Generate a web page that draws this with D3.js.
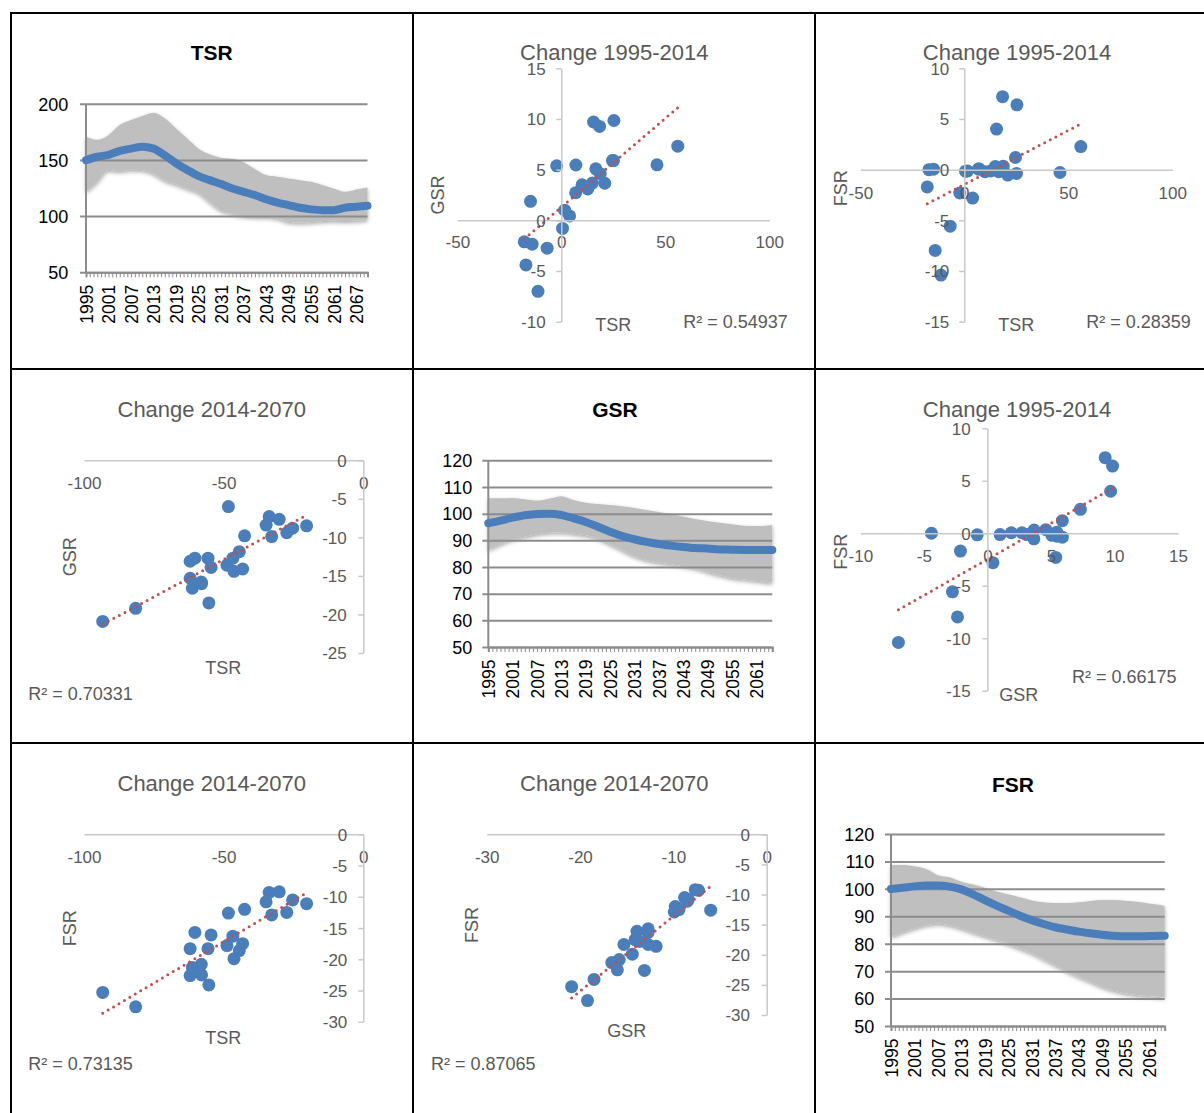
<!DOCTYPE html>
<html>
<head>
<meta charset="utf-8">
<script src="https://cdn.jsdelivr.net/npm/d3@7"></script>
<style>
  html, body { margin: 0; padding: 0; background: #fff; }
  svg { display: block; font-family: "Liberation Sans", Arial, Helvetica, sans-serif; }
</style>
</head>
<body>
<svg id="chart" width="1204" height="1113"></svg>
<script>
// ---------------- Index series (sampled years) ----------------
const tsrYears = [1995, 1998, 2001, 2004, 2007, 2010, 2013, 2016, 2019, 2022, 2025, 2028, 2031,
                  2034, 2037, 2040, 2043, 2046, 2049, 2052, 2055, 2058, 2061, 2064, 2067, 2070];
const tsrMean  = [149.8, 152.8, 154.5, 158, 160, 161.7, 160, 154, 147, 141, 135.6, 132, 128.5,
                  124.6, 121.6, 118.7, 115, 112, 109.8, 107.4, 106, 105.3, 105.3, 107.4, 108.3, 109.2];
const tsrUpper = [170.6, 168, 172, 181, 185.4, 189, 192, 187, 178, 169, 160, 155, 152,
                  151, 148, 142, 136.5, 135, 133.5, 132, 130.5, 127.6, 124.6, 121.6, 123.7, 125.5];
const tsrLower = [121.6, 130.5, 141, 140.3, 141.5, 141, 138, 132, 128.5, 124.6, 120.8, 112.8, 105.3,
                  102.4, 100, 99.4, 99.4, 98, 95, 94.4, 94.7, 95.6, 96, 95.6, 96, 97];

const gfYears  = [1995, 1998, 2001, 2004, 2007, 2010, 2013, 2016, 2019, 2022, 2025, 2028, 2031,
                  2034, 2037, 2040, 2043, 2046, 2049, 2052, 2055, 2058, 2061, 2064, 2065];
const gsrMean  = [96.4, 97.4, 98.5, 99.4, 99.9, 100, 99.5, 98.25, 96.9, 95.1, 93.25, 91.6, 90.4,
                  89.4, 88.6, 88, 87.5, 87.1, 86.9, 86.6, 86.5, 86.4, 86.4, 86.4, 86.4];
const gsrUpper = [105.75, 105.75, 105.9, 105.4, 104.9, 105.6, 106.5, 105.1, 104.1, 103.6, 103.25, 102.75, 102.1,
                  101.4, 100.6, 99.9, 98.9, 98, 97.25, 96.6, 96, 95.5, 95.4, 95.6, 95.75];
const gsrLower = [86.4, 88.6, 90.4, 91.4, 92.4, 92.9, 93, 92.6, 92, 90.75, 88.6, 86.4, 84.1,
                  82.6, 81.75, 81.1, 80.4, 79.5, 78.25, 77, 76, 75.4, 74.9, 74.3, 74.1];
const fsrMean  = [99.95, 100.4, 100.9, 101.2, 101.2, 100.8, 99.8, 98, 95.9, 93.9, 92.05, 90.2, 88.6,
                  87.2, 86, 85.2, 84.4, 83.8, 83.3, 82.9, 82.7, 82.7, 82.8, 82.9, 82.9];
const fsrUpper = [108.7, 108.7, 108.2, 107.2, 105, 104.2, 102.6, 101.6, 100.4, 99, 98, 96.9, 95.8,
                  95.1, 94.8, 94.8, 95.1, 95.6, 95.9, 95.9, 95.7, 95.3, 94.7, 94.1, 93.75];
const fsrLower = [82.6, 84.2, 85.6, 86.8, 87.4, 86.8, 85.6, 84.2, 82.8, 81.4, 79.9, 78.3, 76.6,
                  74.4, 72.2, 70, 68, 66.2, 64.3, 62.9, 61.9, 61.3, 60.9, 60.6, 60.4];

// Category axes (one tick per year) and labelled years
const tsrCategories = d3.range(1995, 2071);
const gfCategories  = d3.range(1995, 2066);
const tsrLabelYears = [1995, 2001, 2007, 2013, 2019, 2025, 2031, 2037, 2043, 2049, 2055, 2061, 2067];
const gfLabelYears  = [1995, 2001, 2007, 2013, 2019, 2025, 2031, 2037, 2043, 2049, 2055, 2061];
const tsrTicks = [50, 100, 150, 200];
const gfTicks  = [50, 60, 70, 80, 90, 100, 110, 120];

// ---------------- Per-country changes (%) ----------------
const chg9514TSR = [18.4, 25.3, 15.5, 56.0, 24.6, -11.2, -14.0, -6.8, 4.0, -2.2, -17.8, 46.0, -17.0,
                    -14.8, 0.6, 1.6, 6.9, 7.0, 10.0, 12.7, 14.9, 16.6, 18.7, 20.9, 25.1];
const chg9514GSR = [9.27, 9.85, 9.7, 7.32, 5.9, -7.0, -2.35, -2.75, 0.44, 5.38, -2.12, 5.48, -4.4,
                    1.88, -0.8, 1.0, 2.72, 5.46, 3.5, 3.1, 3.68, 5.08, 4.6, 3.66, 5.9];
const chg9514FSR = [7.2, 6.4, 4.0, 2.28, 1.2, -10.4, -7.97, -5.58, -2.8, -2.3, -1.7, -0.28, 0.0,
                    0.05, -0.15, -0.13, 0.05, 0.1, -0.2, -0.13, 0.3, -0.2, 0.34, -0.53, -0.37];

const chg1470TSR = [-93.3, -81.5, -48.3, -33.7, -30.1, -34.8, -32.8, -27.4, -25.3, -20.3, -42.5, -44.4, -46.7,
                    -48.8, -46.3, -43.2, -54.5, -55.6, -62.0, -62.0, -60.3, -61.2, -58.0, -57.9, -55.3];
const chg1470GSR = [-20.9, -19.2, -6.0, -7.3, -7.66, -8.4, -9.9, -9.4, -8.8, -8.5, -9.8, -11.85, -12.7,
                    -13.6, -14.4, -14.1, -13.9, -12.7, -13.1, -15.3, -12.7, -16.6, -15.8, -16.0, -18.5];
const chg1470FSR = [-25.3, -27.6, -12.6, -9.3, -9.2, -10.8, -12.9, -12.5, -10.5, -11.1, -12.0, -18.6, -16.3,
                    -17.8, -19.9, -17.5, -16.1, -18.3, -22.6, -18.3, -15.7, -21.3, -20.8, -22.5, -24.1];

const r2Labels = {
  tsrGsr9514: "R² = 0.54937", tsrFsr9514: "R² = 0.28359", gsrFsr9514: "R² = 0.66175",
  tsrGsr1470: "R² = 0.70331", tsrFsr1470: "R² = 0.73135", gsrFsr1470: "R² = 0.87065"
};

// ---------------- Drawing ----------------
const svg = d3.select("#chart");
const BLUE = "#4a7ebb", RED = "#c0504d", GREY_TXT = "#595959";
const FONT = '"Liberation Sans", Arial, Helvetica, sans-serif';
const plain = d => String(d);   // keep the ASCII hyphen for negatives

const defs = svg.append("defs");
const shadow = defs.append("filter").attr("id", "bandShadow")
  .attr("x", "-5%").attr("y", "-5%").attr("width", "110%").attr("height", "120%");
shadow.append("feDropShadow").attr("dx", 0).attr("dy", 2).attr("stdDeviation", 2)
  .attr("flood-color", "#000").attr("flood-opacity", 0.35);

function linePanel(cfg, years, mean, upper, lower, categories, labelYears, yTicks) {
  const g = svg.append("g");
  const x = d3.scalePoint().domain(categories).range([cfg.x0, cfg.x1]);
  const y = d3.scaleLinear().domain(cfg.yDomain).range([cfg.y0, cfg.y1]);
  const rows = years.map((yr, i) => ({ yr, m: mean[i], u: upper[i], l: lower[i] }));

  // uncertainty band
  g.append("path").datum(rows)
    .attr("d", d3.area().curve(d3.curveMonotoneX)
      .x(d => x(d.yr)).y0(d => y(d.l)).y1(d => y(d.u)))
    .attr("fill", "#bfbfbf").attr("filter", "url(#bandShadow)");

  // gridlines + value labels
  const ya = g.append("g").attr("transform", `translate(${cfg.x0 - 6},0)`)
    .call(d3.axisLeft(y).tickValues(yTicks).tickFormat(plain).tickSizeOuter(0)
      .tickSizeInner(-(cfg.x1 - cfg.x0 + 6)).tickPadding(cfg.x0 - 6 - cfg.labelRight));
  ya.select(".domain").remove();
  ya.selectAll("line").attr("stroke", "#8c8c8c").attr("stroke-width", 2);
  ya.selectAll("text").attr("font-size", 18).attr("font-family", FONT).attr("fill", "#000")
    .attr("dy", "0.35em");

  // vertical value axis line
  g.append("line").attr("x1", cfg.x0).attr("x2", cfg.x0)
    .attr("y1", cfg.y1).attr("y2", cfg.y0).attr("stroke", "#8c8c8c").attr("stroke-width", 2);

  // category axis: yearly ticks, rotated labels
  const labelSet = new Set(labelYears);
  const xa = g.append("g").attr("transform", `translate(0,${cfg.y0})`)
    .call(d3.axisBottom(x).tickSizeOuter(0).tickSize(5)
      .tickFormat(d => labelSet.has(d) ? String(d) : ""));
  xa.select(".domain").attr("stroke", "#8c8c8c").attr("stroke-width", 2);
  xa.selectAll("line").attr("stroke", "#8c8c8c").attr("stroke-width", 1);
  xa.selectAll("text").attr("font-size", 17.5).attr("font-family", FONT).attr("fill", "#000")
    .attr("transform", "rotate(-90)").attr("text-anchor", "end")
    .attr("x", -12.5).attr("y", 0).attr("dy", "0.36em");

  // mean line
  g.append("path").datum(rows)
    .attr("d", d3.line().curve(d3.curveMonotoneX).x(d => x(d.yr)).y(d => y(d.m)))
    .attr("fill", "none").attr("stroke", BLUE).attr("stroke-width", 8)
    .attr("stroke-linecap", "round").attr("stroke-linejoin", "round");

  g.append("text").attr("x", cfg.titleX).attr("y", cfg.titleY).attr("dy", "0.35em")
    .attr("text-anchor", "middle").attr("font-size", 21).attr("font-weight", "bold")
    .attr("font-family", FONT).attr("fill", "#000").text(cfg.title);
}

function scatterPanel(cfg, xs, ys) {
  const g = svg.append("g");
  const x = d3.scaleLinear().domain(cfg.xDomain).range([cfg.x0, cfg.x1]);
  const y = d3.scaleLinear().domain(cfg.yDomain).range([cfg.y0, cfg.y1]);

  // points
  g.append("g").selectAll("circle").data(xs).join("circle")
    .attr("cx", d => x(d)).attr("cy", (d, i) => y(ys[i])).attr("r", 6.5).attr("fill", BLUE);

  // least-squares trendline across the data range
  const mx = d3.mean(xs), my = d3.mean(ys);
  const sxy = d3.sum(xs, (v, i) => (v - mx) * (ys[i] - my));
  const sxx = d3.sum(xs, v => (v - mx) * (v - mx));
  const slope = sxy / sxx, icpt = my - slope * mx;
  const [lo, hi] = d3.extent(xs);
  g.append("line")
    .attr("x1", x(lo)).attr("y1", y(icpt + slope * lo))
    .attr("x2", x(hi)).attr("y2", y(icpt + slope * hi))
    .attr("stroke", RED).attr("stroke-width", 3).attr("stroke-linecap", "round")
    .attr("stroke-dasharray", "0 6.3");

  // axes crossing at zero
  const xa = g.append("g").attr("transform", `translate(0,${y(0)})`)
    .call(d3.axisBottom(x).tickValues(cfg.xTicks).tickFormat(plain).tickSize(0).tickSizeOuter(0));
  xa.select(".domain").attr("stroke", "#c8c8c8").attr("stroke-width", 1.5);
  xa.selectAll("text").attr("font-size", 17).attr("font-family", FONT).attr("fill", GREY_TXT)
    .attr("y", cfg.xLabelOffset).attr("dy", "0.35em");

  const ya = g.append("g").attr("transform", `translate(${x(0)},0)`)
    .call(d3.axisLeft(y).tickValues(cfg.yTicks).tickFormat(plain).tickSizeInner(5).tickSizeOuter(0));
  ya.select(".domain").attr("stroke", "#c8c8c8").attr("stroke-width", 1.5);
  ya.selectAll("line").attr("stroke", "#c8c8c8").attr("stroke-width", 1.5);
  ya.selectAll("text").attr("font-size", 17).attr("font-family", FONT).attr("fill", GREY_TXT)
    .attr("x", -cfg.yLabelOffset).attr("dy", "0.35em");

  // titles
  g.append("text").attr("x", cfg.titleX).attr("y", cfg.titleY).attr("dy", "0.35em")
    .attr("text-anchor", "middle").attr("font-size", 22).attr("font-family", FONT)
    .attr("fill", GREY_TXT).text(cfg.title);
  g.append("text").attr("transform", `translate(${cfg.yTitle[0]},${cfg.yTitle[1]}) rotate(-90)`)
    .attr("dy", "0.35em").attr("text-anchor", "middle").attr("font-size", 18)
    .attr("font-family", FONT).attr("fill", GREY_TXT).text(cfg.yName);
  g.append("text").attr("x", cfg.xTitle[0]).attr("y", cfg.xTitle[1]).attr("dy", "0.35em")
    .attr("text-anchor", "middle").attr("font-size", 18).attr("font-family", FONT)
    .attr("fill", GREY_TXT).text(cfg.xName);
  g.append("text").attr("x", cfg.r2Pos[0]).attr("y", cfg.r2Pos[1]).attr("dy", "0.35em")
    .attr("font-size", 18).attr("font-family", FONT).attr("fill", GREY_TXT).text(cfg.r2);
}

// table rules
[[11, 13, 1204, 13], [11, 12, 11, 1113], [413, 12, 413, 1113], [815, 12, 815, 1113],
 [11, 369, 1204, 369], [11, 743, 1204, 743]].forEach(([x1, y1, x2, y2]) =>
  svg.append("line").attr("x1", x1).attr("y1", y1).attr("x2", x2).attr("y2", y2)
    .attr("stroke", "#000").attr("stroke-width", 2));

// index panels
linePanel({ x0: 86, x1: 367.5, y0: 272.3, y1: 103.7, yDomain: [50, 200], labelRight: 68.3,
            title: "TSR", titleX: 211.7, titleY: 52.7 },
          tsrYears, tsrMean, tsrUpper, tsrLower, tsrCategories, tsrLabelYears, tsrTicks);
linePanel({ x0: 488.3, x1: 772.3, y0: 647, y1: 460.3, yDomain: [50, 120], labelRight: 472.3,
            title: "GSR", titleX: 615, titleY: 409.3 },
          gfYears, gsrMean, gsrUpper, gsrLower, gfCategories, gfLabelYears, gfTicks);
linePanel({ x0: 891, x1: 1164.7, y0: 1026, y1: 834, yDomain: [50, 120], labelRight: 874.3,
            title: "FSR", titleX: 1013, titleY: 784.3 },
          gfYears, fsrMean, fsrUpper, fsrLower, gfCategories, gfLabelYears, gfTicks);

// change scatter panels
scatterPanel({ xDomain: [-50, 100], x0: 457.3, x1: 769.3, yDomain: [-10, 15], y0: 321.7, y1: 68.3,
               xTicks: [-50, 0, 50, 100], yTicks: [-10, -5, 0, 5, 10, 15], xLabelOffset: 22, yLabelOffset: 15.7,
               title: "Change 1995-2014", titleX: 614.3, titleY: 52,
               xName: "TSR", yName: "GSR", xTitle: [613.3, 325], yTitle: [437.7, 195],
               r2: r2Labels.tsrGsr9514, r2Pos: [683.3, 321.7] }, chg9514TSR, chg9514GSR);
scatterPanel({ xDomain: [-50, 100], x0: 860.3, x1: 1172.3, yDomain: [-15, 10], y0: 321.7, y1: 68.3,
               xTicks: [-50, 0, 50, 100], yTicks: [-15, -10, -5, 0, 5, 10], xLabelOffset: 23, yLabelOffset: 15,
               title: "Change 1995-2014", titleX: 1017, titleY: 52,
               xName: "TSR", yName: "FSR", xTitle: [1016.3, 325], yTitle: [841, 188.3],
               r2: r2Labels.tsrFsr9514, r2Pos: [1086.3, 321.7] }, chg9514TSR, chg9514FSR);
scatterPanel({ xDomain: [-10, 15], x0: 860.3, x1: 1178, yDomain: [-15, 10], y0: 690.7, y1: 428.3,
               xTicks: [-10, -5, 0, 5, 10, 15], yTicks: [-15, -10, -5, 0, 5, 10], xLabelOffset: 22.7, yLabelOffset: 16.7,
               title: "Change 1995-2014", titleX: 1017, titleY: 409,
               xName: "GSR", yName: "FSR", xTitle: [1018.7, 695], yTitle: [841, 551.7],
               r2: r2Labels.gsrFsr9514, r2Pos: [1072, 676.7] }, chg9514GSR, chg9514FSR);
scatterPanel({ xDomain: [-100, 0], x0: 84, x1: 363.3, yDomain: [-25, 0], y0: 653, y1: 460.3,
               xTicks: [-100, -50, 0], yTicks: [-25, -20, -15, -10, -5, 0], xLabelOffset: 23, yLabelOffset: 16.6,
               title: "Change 2014-2070", titleX: 211.7, titleY: 409.3,
               xName: "TSR", yName: "GSR", xTitle: [223.3, 667.3], yTitle: [69.3, 556.7],
               r2: r2Labels.tsrGsr1470, r2Pos: [28.3, 693.3] }, chg1470TSR, chg1470GSR);
scatterPanel({ xDomain: [-100, 0], x0: 84, x1: 363.3, yDomain: [-30, 0], y0: 1021.8, y1: 834.3,
               xTicks: [-100, -50, 0], yTicks: [-30, -25, -20, -15, -10, -5, 0], xLabelOffset: 23, yLabelOffset: 16,
               title: "Change 2014-2070", titleX: 211.7, titleY: 783.3,
               xName: "TSR", yName: "FSR", xTitle: [223.3, 1037.7], yTitle: [69.3, 928.3],
               r2: r2Labels.tsrFsr1470, r2Pos: [28.3, 1063.3] }, chg1470TSR, chg1470FSR);
scatterPanel({ xDomain: [-30, 0], x0: 486.7, x1: 766.7, yDomain: [-30, 0], y0: 1015, y1: 834.3,
               xTicks: [-30, -20, -10, 0], yTicks: [-30, -25, -20, -15, -10, -5, 0], xLabelOffset: 23, yLabelOffset: 16.7,
               title: "Change 2014-2070", titleX: 614.3, titleY: 783.3,
               xName: "GSR", yName: "FSR", xTitle: [626.7, 1031], yTitle: [471.7, 925],
               r2: r2Labels.gsrFsr1470, r2Pos: [431, 1063.3] }, chg1470GSR, chg1470FSR);
</script>
</body>
</html>
